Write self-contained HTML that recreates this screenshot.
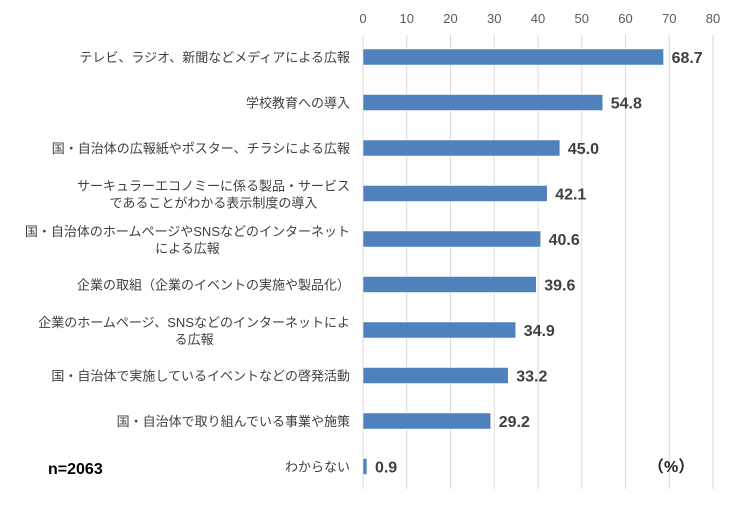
<!DOCTYPE html>
<html><head><meta charset="utf-8"><style>
html,body{margin:0;padding:0;background:#fff;}
svg{display:block;font-family:"Liberation Sans","Noto Sans CJK JP",sans-serif;}
</style></head><body>
<svg id="chart" width="740" height="508" viewBox="0 0 740 508">
<g id="grid"></g><g id="bars"></g><g id="labels"></g>
<text x="48" y="474" font-size="16" font-weight="bold" fill="#000">n=2063</text>
<text x="648" y="472" font-size="16" font-weight="bold" fill="#222">（%）</text>
</svg>
<script>
const categories = [
 ["テレビ、ラジオ、新聞などメディアによる広報"],
 ["学校教育への導入"],
 ["国・自治体の広報紙やポスター、チラシによる広報"],
 ["サーキュラーエコノミーに係る製品・サービス","であることがわかる表示制度の導入"],
 ["国・自治体のホームページやSNSなどのインターネット","による広報"],
 ["企業の取組（企業のイベントの実施や製品化）"],
 ["企業のホームページ、SNSなどのインターネットによ","る広報"],
 ["国・自治体で実施しているイベントなどの啓発活動"],
 ["国・自治体で取り組んでいる事業や施策"],
 ["わからない"]
];
const values = [68.7,54.8,45.0,42.1,40.6,39.6,34.9,33.2,29.2,0.9];
const ticks = [0,10,20,30,40,50,60,70,80];
const NS="http://www.w3.org/2000/svg";
const x0=363, x1=713, yTop=35, yBot=489;
const xs=v=>x0+v*(x1-x0)/80;
const band=(yBot-yTop+1)/categories.length;
const yc=i=>yTop+22+band*i;
function mk(t,a,p){const e=document.createElementNS(NS,t);for(const k in a)e.setAttribute(k,a[k]);p.appendChild(e);return e;}
const g=document.getElementById('grid'),b=document.getElementById('bars'),l=document.getElementById('labels');
ticks.forEach(t=>{
 const ln=mk('line',{x1:xs(t),x2:xs(t),y1:yTop,y2:yBot,stroke:'#d9d9d9','stroke-width':1},g);
 
 
 const tx=mk('text',{x:xs(t),y:23,'text-anchor':'middle','font-size':13,fill:'#595959'},g);
 tx.textContent=t;
 
 
});
values.forEach((v,i)=>{
 const y=yc(i);
 const r=mk('rect',{x:xs(0),y:y-8,width:Math.max(xs(v)-xs(0),1),height:16,fill:'#4f81bd',stroke:'#fff','stroke-width':0.5},b);
 
 
 const t=mk('text',{x:xs(v)+8,y:y+6,'font-size':16,'font-weight':'bold',fill:'#404040'},l);
 t.textContent=v.toFixed(1);
 
 
 const lines=categories[i];
 const els=[];
 lines.forEach((s,j)=>{
  const dy=lines.length===1?5:(j===0?-3:14);
  const c=mk('text',{x:350,y:y+dy,'text-anchor':'end','font-size':13,fill:'#404040'},l);
  c.textContent=s;
  
  
  els.push(c);
 });
 if(lines.length>1){
  const w1=els[0].getComputedTextLength();
  els[1].setAttribute('text-anchor','middle');
  els[1].setAttribute('x',350-w1/2);
 }
});
</script>
</body></html>
